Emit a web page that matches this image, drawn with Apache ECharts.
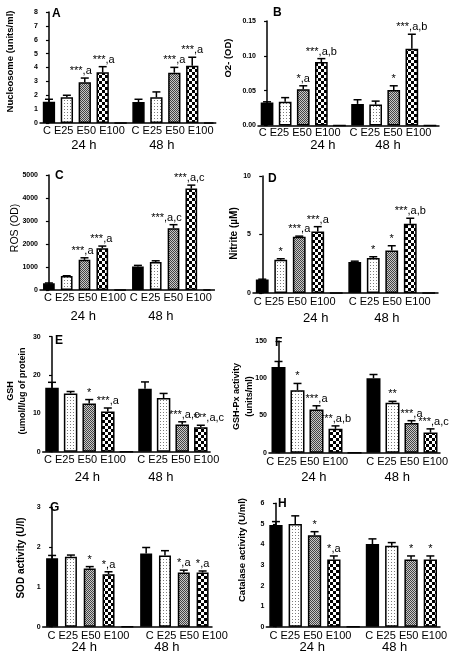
<!DOCTYPE html>
<html><head><meta charset="utf-8">
<script src="https://cdn.jsdelivr.net/npm/echarts/dist/echarts.min.js"></script>
<style>html,body{margin:0;padding:0;background:#fff}#c{width:456px;height:658px}</style>
</head><body><div id="c"></div>
<script>
// ---------- DATA ----------
const treatments = ['C', 'E25', 'E50', 'E100'];
const groupLabel = treatments.join(' ');
const hourLabels = ['24 h', '48 h'];

// A Nucleosome
const nucleosome24 = [1.54, 1.85, 2.93, 3.66];
const nucleosome24Sem = [0.17, 0.15, 0.31, 0.40];
const nucleosome48 = [1.51, 1.85, 3.63, 4.13];
const nucleosome48Sem = [0.20, 0.39, 0.38, 0.61];
const nucleosome24Sig = ['', '', '***,a', '***,a'];
const nucleosome48Sig = ['', '', '***,a', '***,a'];
const nucleosomeTicks = [0, 1, 2, 3, 4, 5, 6, 7, 8];

// B O2-
const o2_24 = [0.033, 0.034, 0.052, 0.091];
const o2_24Sem = [0.001, 0.006, 0.005, 0.005];
const o2_48 = [0.031, 0.030, 0.051, 0.110];
const o2_48Sem = [0.006, 0.005, 0.006, 0.021];
const o2_24Sig = ['', '', '*,a', '***,a,b'];
const o2_48Sig = ['', '', '*', '***,a,b'];
const o2Ticks = [0, 0.05, 0.10, 0.15];

// C ROS
const ros24 = [290, 610, 1310, 1820];
const ros24Sem = [15, 10, 90, 90];
const ros48 = [1020, 1220, 2690, 4410];
const ros48Sem = [50, 50, 150, 150];
const ros24Sig = ['', '', '***,a', '***,a'];
const ros48Sig = ['', '', '***,a,c', '***,a,c'];
const rosTicks = [0, 1000, 2000, 3000, 4000, 5000];

// D Nitrite
const nitrite24 = [1.15, 2.85, 4.80, 5.25];
const nitrite24Sem = [0.03, 0.08, 0.06, 0.42];
const nitrite48 = [2.64, 3.00, 3.64, 5.91];
const nitrite48Sem = [0.08, 0.10, 0.40, 0.48];
const nitrite24Sig = ['', '*', '***,a', '***,a'];
const nitrite48Sig = ['', '*', '*', '***,a,b'];
const nitriteTicks = [0, 5, 10];

// E GSH
const gsh24 = [16.7, 15.2, 12.6, 10.5];
const gsh24Sem = [1.4, 0.5, 1.0, 0.9];
const gsh48 = [16.4, 14.0, 7.1, 6.4];
const gsh48Sem = [1.8, 1.2, 0.7, 0.5];
const gsh24Sig = ['', '', '*', '***,a'];
const gsh48Sig = ['', '', '***,a,c', '***,a,c'];
const gshTicks = [0, 10, 20, 30];

// F GSH-Px
const gpx24 = [115, 84, 58, 32];
const gpx24Sem = [7.5, 9, 5, 4];
const gpx48 = [100, 67, 40, 27];
const gpx48Sem = [5, 2, 3, 5];
const gpx24Sig = ['', '*', '***,a', '***,a,b'];
const gpx48Sig = ['', '**', '***,a', '***,a,c'];
const gpxTicks = [0, 50, 100, 150];

// G SOD
const sod24 = [1.72, 1.76, 1.46, 1.32];
const sod24Sem = [0.07, 0.04, 0.05, 0.06];
const sod48 = [1.84, 1.79, 1.36, 1.36];
const sod48Sem = [0.15, 0.12, 0.06, 0.04];
const sod24Sig = ['', '', '*', '*,a'];
const sod48Sig = ['', '', '*,a', '*,a'];
const sodTicks = [0, 1, 2, 3];

// H Catalase
const catalase24 = [4.94, 4.99, 4.45, 3.27];
const catalase24Sem = [0.17, 0.40, 0.17, 0.17];
const catalase48 = [4.02, 3.93, 3.27, 3.27];
const catalase48Sem = [0.25, 0.16, 0.17, 0.17];
const catalase24Sig = ['', '', '*', '*,a'];
const catalase48Sig = ['', '', '*', '*'];
const catalaseTicks = [0, 1, 2, 3, 4, 5, 6];

const panels = [
  {id:'A', title:'Nucleosome (units/ml)', v24:nucleosome24, e24:nucleosome24Sem, v48:nucleosome48, e48:nucleosome48Sem, s24:nucleosome24Sig, s48:nucleosome48Sig, ticks:nucleosomeTicks, dec:0},
  {id:'B', title:'O2- (OD)', v24:o2_24, e24:o2_24Sem, v48:o2_48, e48:o2_48Sem, s24:o2_24Sig, s48:o2_48Sig, ticks:o2Ticks, dec:2},
  {id:'C', title:'ROS (OD)', v24:ros24, e24:ros24Sem, v48:ros48, e48:ros48Sem, s24:ros24Sig, s48:ros48Sig, ticks:rosTicks, dec:0},
  {id:'D', title:'Nitrite (\u00b5M)', v24:nitrite24, e24:nitrite24Sem, v48:nitrite48, e48:nitrite48Sem, s24:nitrite24Sig, s48:nitrite48Sig, ticks:nitriteTicks, dec:0},
  {id:'E', title:'GSH\n(umol/l/ug of protein', v24:gsh24, e24:gsh24Sem, v48:gsh48, e48:gsh48Sem, s24:gsh24Sig, s48:gsh48Sig, ticks:gshTicks, dec:0},
  {id:'F', title:'GSH-Px activity\n(units/ml)', v24:gpx24, e24:gpx24Sem, v48:gpx48, e48:gpx48Sem, s24:gpx24Sig, s48:gpx48Sig, ticks:gpxTicks, dec:0},
  {id:'G', title:'SOD activity (U/l)', v24:sod24, e24:sod24Sem, v48:sod48, e48:sod48Sem, s24:sod24Sig, s48:sod48Sig, ticks:sodTicks, dec:0},
  {id:'H', title:'Catalase activity (U/ml)', v24:catalase24, e24:catalase24Sem, v48:catalase48, e48:catalase48Sem, s24:catalase24Sig, s48:catalase48Sig, ticks:catalaseTicks, dec:0}
];

// ---------- LAYOUT ----------
const Z8 = [0,0,0,0,0,0,0,0];
const layout = {
  A:{left:40, top:12, width:173, height:111, xMax:9.16, gaps:[4,9], barW:12.3, cat:[1.95,6.9], hour:[1.95,6.3], catDy:7.5, hourDy:22, letter:[52,14], name:[10,61.5], nameFont:'bold 9.5px', sigDx:[0,0,-4,1,0,0,0,0]},
  B:{left:258, top:21, width:181, height:104.5, xMax:9.5, gaps:[4,9], barW:12.7, cat:[1.8,6.82], hour:[3.08,6.68], catDy:7, hourDy:20, letter:[273,12.5], name:[228,58], nameFont:'bold 9.5px', sigDx:Z8},
  C:{left:40, top:175, width:170, height:115, xMax:9.05, gaps:[4,9], barW:11.7, cat:[2.03,6.85], hour:[1.93,6.29], catDy:8, hourDy:26.5, letter:[55,176], name:[15,228], nameFont:'10.5px', sigDx:[0,0,-2,-1,0,0,-7,-2]},
  D:{left:253, top:176, width:185, height:117, xMax:9.5, gaps:[4,9], barW:12.8, cat:[1.75,6.89], hour:[2.89,6.74], catDy:9, hourDy:25, letter:[268,179], name:[234,233.5], nameFont:'bold 10px', sigDx:Z8},
  E:{left:42.7, top:336.7, width:167.4, height:115, xMax:8.5, gaps:[4], barW:13.5, cat:[1.77,6.79], hour:[1.9,5.85], catDy:8, hourDy:26, letter:[55,341], name:[16.5,391], nameFont:'bold 9px', sigDx:[0,0,0,0,0,0,2,8]},
  F:{left:269, top:341, width:171, height:111.7, xMax:8.5, gaps:[4], barW:14, cat:[1.51,6.77], hour:[1.86,6.25], catDy:9, hourDy:25, letter:[275,342.5], name:[243,396.5], nameFont:'bold 9px', sigDx:[0,0,0,0,0,0,0,3]},
  G:{left:42.7, top:507.3, width:169.3, height:119.4, xMax:8.5, gaps:[4], barW:12, cat:[1.93,7.16], hour:[1.71,6.1], catDy:9.3, hourDy:21, letter:[50,507.5], name:[21,558], nameFont:'bold 10px', sigDx:Z8},
  H:{left:266.3, top:503.3, width:173.7, height:123.4, xMax:8.5, gaps:[4], barW:13.3, cat:[1.79,6.75], hour:[1.88,6.15], catDy:9.3, hourDy:21, letter:[278,504], name:[242,550], nameFont:'bold 9.5px', sigDx:Z8}
};

const FONT = '"Liberation Sans", Arial, sans-serif';

function pattern(kind) {
  const c = document.createElement('canvas');
  const g = c.getContext('2d');
  if (kind === 'dots') {
    c.width = 3; c.height = 3;
    g.fillStyle = '#fff'; g.fillRect(0, 0, 3, 3);
    g.fillStyle = '#7a7a7a'; g.fillRect(1, 1, 1, 1);
  } else if (kind === 'gray') {
    c.width = 2; c.height = 2;
    g.fillStyle = '#c8c8c8'; g.fillRect(0, 0, 2, 2);
    g.fillStyle = '#444'; g.fillRect(0, 0, 1, 1); g.fillRect(1, 1, 1, 1);
  } else {
    c.width = 6; c.height = 6;
    g.fillStyle = '#fff'; g.fillRect(0, 0, 6, 6);
    g.fillStyle = '#000'; g.fillRect(0, 0, 3, 3); g.fillRect(3, 3, 3, 3);
  }
  return {image: c, repeat: 'repeat'};
}
const fills = ['#000', pattern('dots'), pattern('gray'), pattern('check')];

function txt(x, y, text, font, align, valign, extra) {
  return Object.assign({type:'text', x:x, y:y, style:{text:text, font:font, fill:'#000',
    align:align, verticalAlign:valign, textAlign:align, textVerticalAlign:valign}}, extra || {});
}

const grids = [], xAxes = [], yAxes = [], series = [], graphics = [];

panels.forEach((p, k) => {
  const L = layout[p.id];
  const yMax = p.ticks[p.ticks.length - 1];
  const yInt = p.ticks[1] - p.ticks[0];
  grids.push({left:L.left, top:L.top, width:L.width, height:L.height});
  xAxes.push({gridIndex:k, type:'value', min:-0.5, max:L.xMax,
    axisLine:{show:true, onZero:false, lineStyle:{color:'#000', width:1.5}},
    axisTick:{show:false}, axisLabel:{show:false}, splitLine:{show:false}});
  yAxes.push({gridIndex:k, type:'value', min:0, max:yMax, interval:yInt,
    axisLine:{show:true, lineStyle:{color:'#000', width:1.5}},
    axisTick:{show:true, length:3, lineStyle:{color:'#000', width:1.2}},
    axisLabel:{color:'#000', fontSize:7, fontWeight:'bold', fontFamily:FONT, margin:2,
      formatter: v => Number(v).toFixed(p.dec)},
    splitLine:{show:false}});

  const bars = [], errs = [], sigs = [];
  [[p.v24, p.e24, p.s24, 0], [p.v48, p.e48, p.s48, 5]].forEach(([v, e, s, off]) => {
    v.forEach((val, i) => {
      bars.push({value:[off + i, val], itemStyle:{color:fills[i]}});
      errs.push([off + i, val, e[i]]);
      sigs.push(s[i]);
    });
  });
  L.gaps.forEach(gx => bars.push({value:[gx, 0], itemStyle:{color:'#000'}}));

  series.push({type:'bar', xAxisIndex:k, yAxisIndex:k, barWidth:L.barW, data:bars, clip:true,
    itemStyle:{borderColor:'#000', borderWidth:1.5}, silent:true});

  series.push({type:'custom', xAxisIndex:k, yAxisIndex:k, data:errs, silent:true,
    renderItem: (params, api) => {
      const x = api.value(0), m = api.value(1), s = api.value(2);
      const p0 = api.coord([x, m]);
      const p1 = api.coord([x, m + s]);
      const half = 4;
      const children = [
        {type:'line', shape:{x1:p0[0], y1:p0[1], x2:p1[0], y2:p1[1]}, style:{stroke:'#000', lineWidth:1.5}},
        {type:'line', shape:{x1:p1[0]-half, y1:p1[1], x2:p1[0]+half, y2:p1[1]}, style:{stroke:'#000', lineWidth:1.5}}
      ];
      const t = sigs[params.dataIndex];
      if (t) children.push(txt(p1[0] + L.sigDx[params.dataIndex], p1[1] - 1.5, t, '11px ' + FONT, 'center', 'bottom'));
      return {type:'group', children:children};
    }});

  series.push({type:'custom', xAxisIndex:k, yAxisIndex:k, silent:true,
    data:[[L.cat[0], L.hour[0]], [L.cat[1], L.hour[1]]],
    renderItem: (params, api) => {
      const a = api.coord([api.value(0), 0]);
      const b = api.coord([api.value(1), 0]);
      return {type:'group', children:[
        txt(a[0], a[1] + L.catDy, groupLabel, '11px ' + FONT, 'center', 'middle'),
        txt(b[0], b[1] + L.hourDy, hourLabels[params.dataIndex], '13px ' + FONT, 'center', 'middle')
      ]};
    }});

  graphics.push(txt(L.letter[0], L.letter[1], p.id, 'bold 12px ' + FONT, 'left', 'middle'));
  graphics.push(txt(L.name[0], L.name[1], p.title, L.nameFont + ' ' + FONT, 'center', 'middle',
    {rotation: Math.PI / 2}));
});
graphics.forEach(g => { if (g.style.text.indexOf('\n') >= 0) g.style.lineHeight = 12.5; });

const chart = echarts.init(document.getElementById('c'), null, {renderer:'canvas', width:456, height:658});
chart.setOption({
  animation:false,
  backgroundColor:'#fff',
  grid:grids, xAxis:xAxes, yAxis:yAxes, series:series,
  graphic:{elements:graphics}
});
</script>
</body></html>
